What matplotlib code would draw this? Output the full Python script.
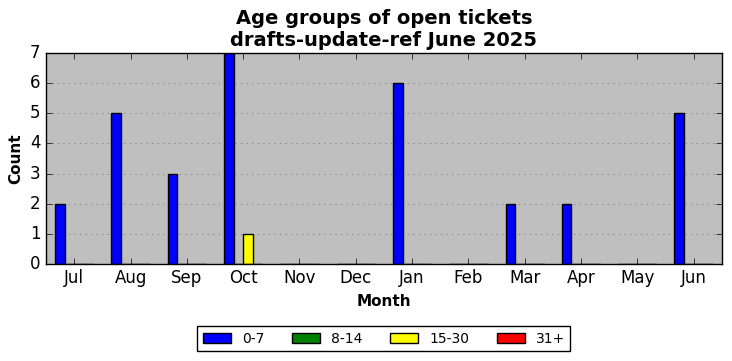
import numpy as np
import matplotlib
matplotlib.use('Agg')
import matplotlib.pyplot as plt

# monthly counts of open tickets per age group
months = ['Jul', 'Aug', 'Sep', 'Oct', 'Nov', 'Dec', 'Jan', 'Feb', 'Mar', 'Apr', 'May', 'Jun']
age_0_7 = [2, 5, 3, 7, 0, 0, 6, 0, 2, 2, 0, 5]
age_8_14 = [0, 0, 0, 0, 0, 0, 0, 0, 0, 0, 0, 0]
age_15_30 = [0, 0, 0, 1, 0, 0, 0, 0, 0, 0, 0, 0]
age_31p = [0, 0, 0, 0, 0, 0, 0, 0, 0, 0, 0, 0]

groups = ['0-7', '8-14', '15-30', '31+']
series = [age_0_7, age_8_14, age_15_30, age_31p]
colors = ['blue', 'green', 'yellow', 'red']

plt.style.use('classic')
fig = plt.figure(figsize=(7.32, 3.61), dpi=100, facecolor='white')
ax = fig.add_axes([0.063, 0.269, 0.923, 0.584])
ax.set_facecolor('0.75')

x = np.arange(len(months))
w = 0.17
for k, (vals, lab, col) in enumerate(zip(series, groups, colors)):
    ax.bar(x + (k - 2) * w, vals, w, align='edge', color=col,
           edgecolor='black', linewidth=1, label=lab)

ax.set_xlim(-0.5, len(months) - 0.5)
ax.set_ylim(0, 7)
ax.set_xticks(x)
ax.set_xticklabels(months)
ax.tick_params(labelsize=12)
ax.yaxis.grid(True, linestyle=':', color='0.45')
ax.set_axisbelow(True)

ax.set_xlabel('Month', fontsize=11, fontweight='bold')
ax.set_ylabel('Count', fontsize=11, fontweight='bold')
ax.set_title('Age groups of open tickets\ndrafts-update-ref June 2025',
             fontsize=14, fontweight='bold')

ax.legend(loc='upper center', bbox_to_anchor=(0.5, -0.262), ncol=4,
          fontsize=10, handlelength=2.0, handleheight=0.7, columnspacing=2.0)

fig.savefig('out.png', dpi=100, facecolor='white')
